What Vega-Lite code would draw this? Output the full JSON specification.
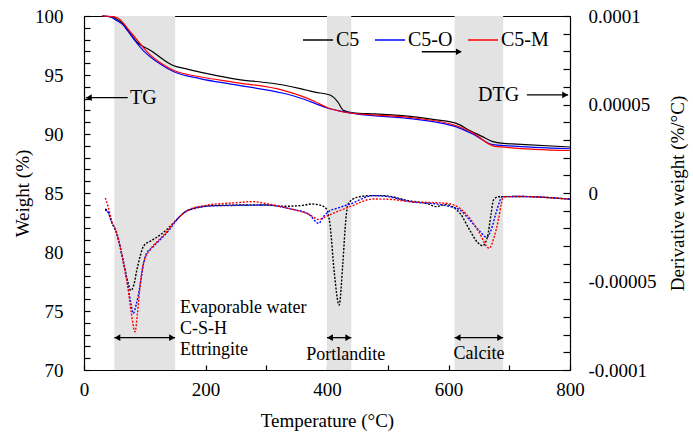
{
  "$schema": "https://vega.github.io/schema/vega-lite/v6.json",
  "width": 486,
  "height": 354,
  "autosize": "none",
  "padding": {"left": 84, "top": 16, "right": 123, "bottom": 63},
  "background": "white",
  "config": {
    "view": {"stroke": "black", "strokeWidth": 1},
    "font": "Liberation Serif",
    "axis": {
      "labelFont": "Liberation Serif", "titleFont": "Liberation Serif",
      "labelFontSize": 19, "titleFontSize": 19, "titleFontWeight": "normal",
      "labelColor": "black", "titleColor": "black", "domainColor": "black", "tickColor": "black",
      "domainWidth": 1.2, "tickWidth": 1.2, "grid": false, "labelOverlap": false, "labelFlush": false, "labelBound": false
    },
    "axisLeft": {"labelOverlap": false}
  },
  "datasets": {
    "bands": [{"t1": 50, "t2": 150}, {"t1": 400, "t2": 440}, {"t1": 610, "t2": 690}],
    "tg": [
      {"s":"C5","t":30,"w":100},{"s":"C5","t":45,"w":99.93},{"s":"C5","t":55,"w":99.7},{"s":"C5","t":65,"w":99.3},{"s":"C5","t":75,"w":98.6},{"s":"C5","t":87,"w":97.8},{"s":"C5","t":98,"w":97.4},{"s":"C5","t":109,"w":97.1},{"s":"C5","t":128,"w":96.4},{"s":"C5","t":147,"w":95.8},{"s":"C5","t":170,"w":95.5},{"s":"C5","t":191,"w":95.25},{"s":"C5","t":245,"w":94.7},{"s":"C5","t":328,"w":94.15},{"s":"C5","t":356,"w":93.85},{"s":"C5","t":380,"w":93.55},{"s":"C5","t":405,"w":93.3},{"s":"C5","t":418,"w":92.7},{"s":"C5","t":427,"w":92.0},{"s":"C5","t":443,"w":91.8},{"s":"C5","t":480,"w":91.7},{"s":"C5","t":537,"w":91.5},{"s":"C5","t":580,"w":91.2},{"s":"C5","t":613,"w":90.9},{"s":"C5","t":635,"w":90.3},{"s":"C5","t":655,"w":89.8},{"s":"C5","t":673,"w":89.35},{"s":"C5","t":690,"w":89.2},{"s":"C5","t":712,"w":89.15},{"s":"C5","t":800,"w":88.9},
      {"s":"C5-O","t":30,"w":100},{"s":"C5-O","t":45,"w":99.9},{"s":"C5-O","t":51,"w":99.7},{"s":"C5-O","t":65,"w":99.2},{"s":"C5-O","t":71,"w":98.8},{"s":"C5-O","t":87,"w":97.7},{"s":"C5-O","t":98,"w":97.05},{"s":"C5-O","t":109,"w":96.55},{"s":"C5-O","t":128,"w":95.85},{"s":"C5-O","t":147,"w":95.3},{"s":"C5-O","t":191,"w":94.7},{"s":"C5-O","t":245,"w":94.2},{"s":"C5-O","t":328,"w":93.45},{"s":"C5-O","t":356,"w":93.05},{"s":"C5-O","t":380,"w":92.6},{"s":"C5-O","t":400,"w":92.2},{"s":"C5-O","t":427,"w":91.9},{"s":"C5-O","t":443,"w":91.75},{"s":"C5-O","t":537,"w":91.3},{"s":"C5-O","t":580,"w":91.0},{"s":"C5-O","t":613,"w":90.6},{"s":"C5-O","t":640,"w":90.0},{"s":"C5-O","t":673,"w":89.1},{"s":"C5-O","t":700,"w":89.0},{"s":"C5-O","t":800,"w":88.75},
      {"s":"C5-M","t":30,"w":100},{"s":"C5-M","t":45,"w":99.95},{"s":"C5-M","t":55,"w":99.85},{"s":"C5-M","t":65,"w":99.4},{"s":"C5-M","t":71,"w":99.0},{"s":"C5-M","t":87,"w":98.0},{"s":"C5-M","t":98,"w":97.3},{"s":"C5-M","t":109,"w":96.7},{"s":"C5-M","t":128,"w":95.95},{"s":"C5-M","t":147,"w":95.4},{"s":"C5-M","t":191,"w":94.85},{"s":"C5-M","t":245,"w":94.4},{"s":"C5-M","t":328,"w":93.7},{"s":"C5-M","t":356,"w":93.25},{"s":"C5-M","t":380,"w":92.75},{"s":"C5-M","t":402,"w":92.2},{"s":"C5-M","t":435,"w":91.8},{"s":"C5-M","t":537,"w":91.4},{"s":"C5-M","t":613,"w":90.7},{"s":"C5-M","t":640,"w":90.1},{"s":"C5-M","t":673,"w":89.0},{"s":"C5-M","t":700,"w":88.85},{"s":"C5-M","t":800,"w":88.6}
    ],
    "dtg": [
      {"s":"C5","t":35,"d":-0.9e-5},{"s":"C5","t":40,"d":-1.1e-5},{"s":"C5","t":45,"d":-1.6e-5},{"s":"C5","t":54,"d":-2.3e-5},{"s":"C5","t":65,"d":-3.9e-5},{"s":"C5","t":72,"d":-5.0e-5},{"s":"C5","t":77,"d":-5.5e-5},{"s":"C5","t":82,"d":-5.2e-5},{"s":"C5","t":87,"d":-4.35e-5},{"s":"C5","t":93,"d":-3.5e-5},{"s":"C5","t":98,"d":-3.0e-5},{"s":"C5","t":110,"d":-2.7e-5},{"s":"C5","t":120,"d":-2.5e-5},{"s":"C5","t":135,"d":-2.1e-5},{"s":"C5","t":150,"d":-1.6e-5},{"s":"C5","t":165,"d":-1.1e-5},{"s":"C5","t":185,"d":-0.85e-5},{"s":"C5","t":218,"d":-0.7e-5},{"s":"C5","t":260,"d":-0.68e-5},{"s":"C5","t":300,"d":-0.68e-5},{"s":"C5","t":330,"d":-0.75e-5},{"s":"C5","t":360,"d":-0.7e-5},{"s":"C5","t":375,"d":-0.62e-5},{"s":"C5","t":390,"d":-0.7e-5},{"s":"C5","t":399,"d":-0.9e-5},{"s":"C5","t":405,"d":-1.8e-5},{"s":"C5","t":412,"d":-4.5e-5},{"s":"C5","t":420,"d":-6.33e-5},{"s":"C5","t":426,"d":-4.0e-5},{"s":"C5","t":431,"d":-1.5e-5},{"s":"C5","t":435,"d":-0.6e-5},{"s":"C5","t":449,"d":-0.25e-5},{"s":"C5","t":470,"d":-0.15e-5},{"s":"C5","t":492,"d":-0.15e-5},{"s":"C5","t":537,"d":-0.45e-5},{"s":"C5","t":565,"d":-0.6e-5},{"s":"C5","t":580,"d":-0.77e-5},{"s":"C5","t":595,"d":-0.65e-5},{"s":"C5","t":608,"d":-0.8e-5},{"s":"C5","t":619,"d":-1.15e-5},{"s":"C5","t":635,"d":-2.1e-5},{"s":"C5","t":648,"d":-2.8e-5},{"s":"C5","t":656,"d":-2.98e-5},{"s":"C5","t":664,"d":-2.5e-5},{"s":"C5","t":670,"d":-1.2e-5},{"s":"C5","t":674,"d":-0.4e-5},{"s":"C5","t":682,"d":-0.21e-5},{"s":"C5","t":720,"d":-0.2e-5},{"s":"C5","t":760,"d":-0.25e-5},{"s":"C5","t":800,"d":-0.35e-5},
      {"s":"C5-O","t":35,"d":-0.96e-5},{"s":"C5-O","t":40,"d":-1.1e-5},{"s":"C5-O","t":45,"d":-1.6e-5},{"s":"C5-O","t":54,"d":-2.3e-5},{"s":"C5-O","t":65,"d":-3.95e-5},{"s":"C5-O","t":72,"d":-5.2e-5},{"s":"C5-O","t":77,"d":-6.2e-5},{"s":"C5-O","t":81,"d":-6.8e-5},{"s":"C5-O","t":86,"d":-6.3e-5},{"s":"C5-O","t":92,"d":-5.3e-5},{"s":"C5-O","t":98,"d":-4.0e-5},{"s":"C5-O","t":103,"d":-3.4e-5},{"s":"C5-O","t":112,"d":-3.1e-5},{"s":"C5-O","t":125,"d":-2.65e-5},{"s":"C5-O","t":140,"d":-2.1e-5},{"s":"C5-O","t":153,"d":-1.5e-5},{"s":"C5-O","t":170,"d":-1.0e-5},{"s":"C5-O","t":200,"d":-0.75e-5},{"s":"C5-O","t":250,"d":-0.7e-5},{"s":"C5-O","t":300,"d":-0.68e-5},{"s":"C5-O","t":340,"d":-0.9e-5},{"s":"C5-O","t":370,"d":-1.2e-5},{"s":"C5-O","t":386,"d":-1.71e-5},{"s":"C5-O","t":395,"d":-1.3e-5},{"s":"C5-O","t":405,"d":-1.0e-5},{"s":"C5-O","t":416,"d":-0.87e-5},{"s":"C5-O","t":438,"d":-0.62e-5},{"s":"C5-O","t":476,"d":-0.15e-5},{"s":"C5-O","t":500,"d":-0.2e-5},{"s":"C5-O","t":537,"d":-0.49e-5},{"s":"C5-O","t":580,"d":-0.62e-5},{"s":"C5-O","t":600,"d":-0.75e-5},{"s":"C5-O","t":619,"d":-0.96e-5},{"s":"C5-O","t":635,"d":-1.53e-5},{"s":"C5-O","t":650,"d":-2.1e-5},{"s":"C5-O","t":663,"d":-2.5e-5},{"s":"C5-O","t":670,"d":-2.1e-5},{"s":"C5-O","t":678,"d":-1.15e-5},{"s":"C5-O","t":684,"d":-0.5e-5},{"s":"C5-O","t":688,"d":-0.21e-5},{"s":"C5-O","t":720,"d":-0.2e-5},{"s":"C5-O","t":760,"d":-0.25e-5},{"s":"C5-O","t":800,"d":-0.35e-5},
      {"s":"C5-M","t":35,"d":-0.28e-5},{"s":"C5-M","t":40,"d":-0.8e-5},{"s":"C5-M","t":45,"d":-1.5e-5},{"s":"C5-M","t":54,"d":-2.26e-5},{"s":"C5-M","t":65,"d":-3.95e-5},{"s":"C5-M","t":72,"d":-5.3e-5},{"s":"C5-M","t":78,"d":-6.8e-5},{"s":"C5-M","t":84,"d":-7.84e-5},{"s":"C5-M","t":88,"d":-6.8e-5},{"s":"C5-M","t":93,"d":-5.0e-5},{"s":"C5-M","t":98,"d":-3.95e-5},{"s":"C5-M","t":109,"d":-3.2e-5},{"s":"C5-M","t":125,"d":-2.6e-5},{"s":"C5-M","t":136,"d":-2.2e-5},{"s":"C5-M","t":150,"d":-1.6e-5},{"s":"C5-M","t":170,"d":-1.0e-5},{"s":"C5-M","t":200,"d":-0.7e-5},{"s":"C5-M","t":250,"d":-0.55e-5},{"s":"C5-M","t":278,"d":-0.49e-5},{"s":"C5-M","t":300,"d":-0.6e-5},{"s":"C5-M","t":340,"d":-0.9e-5},{"s":"C5-M","t":370,"d":-1.2e-5},{"s":"C5-M","t":386,"d":-1.49e-5},{"s":"C5-M","t":400,"d":-1.3e-5},{"s":"C5-M","t":416,"d":-1.06e-5},{"s":"C5-M","t":438,"d":-0.77e-5},{"s":"C5-M","t":476,"d":-0.34e-5},{"s":"C5-M","t":500,"d":-0.35e-5},{"s":"C5-M","t":537,"d":-0.49e-5},{"s":"C5-M","t":580,"d":-0.55e-5},{"s":"C5-M","t":600,"d":-0.6e-5},{"s":"C5-M","t":619,"d":-0.87e-5},{"s":"C5-M","t":635,"d":-1.43e-5},{"s":"C5-M","t":650,"d":-2.2e-5},{"s":"C5-M","t":667,"d":-3.12e-5},{"s":"C5-M","t":675,"d":-2.5e-5},{"s":"C5-M","t":682,"d":-1.53e-5},{"s":"C5-M","t":687,"d":-0.6e-5},{"s":"C5-M","t":690,"d":-0.21e-5},{"s":"C5-M","t":720,"d":-0.2e-5},{"s":"C5-M","t":760,"d":-0.25e-5},{"s":"C5-M","t":800,"d":-0.35e-5}
    ],
    "arrows": [
      {"t1": 50, "t2": 150, "w": 72.74},
      {"t1": 400, "t2": 440, "w": 72.74},
      {"t1": 610, "t2": 690, "w": 72.74},
      {"t1": 3, "t2": 72, "w": 93.08},
      {"t1": 729, "t2": 797, "w": 93.31},
      {"t1": 556, "t2": 620, "w": 96.97}
    ],
    "heads": [
      {"t": 55, "w": 72.74, "dir": "left"}, {"t": 145, "w": 72.74, "dir": "right"},
      {"t": 405, "w": 72.74, "dir": "left"}, {"t": 435, "w": 72.74, "dir": "right"},
      {"t": 615, "w": 72.74, "dir": "left"}, {"t": 685, "w": 72.74, "dir": "right"},
      {"t": 8, "w": 93.08, "dir": "left"},
      {"t": 792, "w": 93.31, "dir": "right"},
      {"t": 617, "w": 96.97, "dir": "right"}
    ],
    "textsLeft": [
      {"t": 158, "w": 75.28, "label": "Evaporable water"},
      {"t": 158, "w": 73.47, "label": "C-S-H"},
      {"t": 158, "w": 71.69, "label": "Ettringite"}
    ],
    "textsCenter": [
      {"t": 431, "w": 71.27, "label": "Portlandite"},
      {"t": 650, "w": 71.33, "label": "Calcite"}
    ],
    "textsBig": [
      {"t": 75.7, "w": 93.08, "label": "TG"},
      {"t": 648.6, "w": 93.31, "label": "DTG"}
    ]
  },
  "layer": [
    {
      "layer": [
        {
          "data": {"name": "bands"},
          "mark": {"type": "rect", "color": "#e3e3e3"},
          "encoding": {
            "x": {"field": "t1", "type": "quantitative", "title": "Temperature (°C)",
              "scale": {"domain": [0, 800], "nice": false},
              "axis": {"values": [0,50,100,150,200,250,300,350,400,450,500,550,600,650,700,750,800],
                "labelExpr": "datum.value % 200 == 0 ? datum.label : ''", "labelOverlap": false,
                "tickSize": -5, "labelPadding": 15, "titleX": 243, "titleY": 50, "titleBaseline": "middle", "titleAlign": "center"}},
            "x2": {"field": "t2"}
          }
        },
        {
          "data": {"name": "tg"},
          "mark": {"type": "line", "strokeWidth": 1.2, "interpolate": "monotone"},
          "encoding": {
            "x": {"field": "t", "type": "quantitative", "title": "Temperature (°C)"},
            "y": {"field": "w", "type": "quantitative", "title": "Weight (%)",
              "scale": {"domain": [70, 100], "nice": false},
              "axis": {"values": [70,71,72,73,74,75,76,77,78,79,80,81,82,83,84,85,86,87,88,89,90,91,92,93,94,95,96,97,98,99,100],
                "labelExpr": "datum.value % 5 == 0 ? datum.label : ''", "labelOverlap": false,
                "tickSize": -6, "labelPadding": 27, "titleX": -62, "titleY": 177, "titleAngle": 270, "titleBaseline": "middle", "titleAlign": "center"}},
            "color": {"field": "s", "type": "nominal",
              "scale": {"domain": ["C5", "C5-O", "C5-M"], "range": ["#000000", "#0000ff", "#ff0000"]},
              "legend": {"orient": "none", "legendX": 218, "legendY": 8, "direction": "horizontal", "title": null,
                "symbolType": "stroke", "symbolSize": 900, "symbolStrokeWidth": 1.5, "labelFontSize": 20,
                "labelFont": "Liberation Serif", "labelColor": "black", "labelOffset": 2, "columnPadding": 12, "padding": 0}}
          }
        },
        {
          "data": {"name": "arrows"},
          "mark": {"type": "rule", "color": "black", "strokeWidth": 1.3},
          "encoding": {
            "x": {"field": "t1", "type": "quantitative", "title": "Temperature (°C)"},
            "x2": {"field": "t2"},
            "y": {"field": "w", "type": "quantitative", "title": "Weight (%)",
              "axis": {"values": [70,71,72,73,74,75,76,77,78,79,80,81,82,83,84,85,86,87,88,89,90,91,92,93,94,95,96,97,98,99,100],
                "labelExpr": "datum.value % 5 == 0 ? datum.label : ''", "labelOverlap": false,
                "tickSize": -6, "labelPadding": 27, "titleX": -62, "titleY": 177, "titleAngle": 270, "titleBaseline": "middle", "titleAlign": "center"}}
          }
        },
        {
          "data": {"name": "heads"},
          "mark": {"type": "point", "filled": true, "color": "black", "size": 45, "opacity": 1},
          "encoding": {
            "x": {"field": "t", "type": "quantitative", "title": "Temperature (°C)"},
            "y": {"field": "w", "type": "quantitative", "title": "Weight (%)",
              "axis": {"values": [70,71,72,73,74,75,76,77,78,79,80,81,82,83,84,85,86,87,88,89,90,91,92,93,94,95,96,97,98,99,100],
                "labelExpr": "datum.value % 5 == 0 ? datum.label : ''", "labelOverlap": false,
                "tickSize": -6, "labelPadding": 27, "titleX": -62, "titleY": 177, "titleAngle": 270, "titleBaseline": "middle", "titleAlign": "center"}},
            "shape": {"field": "dir", "type": "nominal", "scale": {"domain": ["left", "right"], "range": ["triangle-left", "triangle-right"]}, "legend": null}
          }
        },
        {
          "data": {"name": "textsLeft"},
          "mark": {"type": "text", "align": "left", "baseline": "middle", "fontSize": 18, "font": "Liberation Serif", "color": "black"},
          "encoding": {
            "x": {"field": "t", "type": "quantitative", "title": "Temperature (°C)"},
            "y": {"field": "w", "type": "quantitative", "title": "Weight (%)",
              "axis": {"values": [70,71,72,73,74,75,76,77,78,79,80,81,82,83,84,85,86,87,88,89,90,91,92,93,94,95,96,97,98,99,100],
                "labelExpr": "datum.value % 5 == 0 ? datum.label : ''", "labelOverlap": false,
                "tickSize": -6, "labelPadding": 27, "titleX": -62, "titleY": 177, "titleAngle": 270, "titleBaseline": "middle", "titleAlign": "center"}},
            "text": {"field": "label"}
          }
        },
        {
          "data": {"name": "textsCenter"},
          "mark": {"type": "text", "align": "center", "baseline": "middle", "fontSize": 18, "font": "Liberation Serif", "color": "black"},
          "encoding": {
            "x": {"field": "t", "type": "quantitative", "title": "Temperature (°C)"},
            "y": {"field": "w", "type": "quantitative", "title": "Weight (%)",
              "axis": {"values": [70,71,72,73,74,75,76,77,78,79,80,81,82,83,84,85,86,87,88,89,90,91,92,93,94,95,96,97,98,99,100],
                "labelExpr": "datum.value % 5 == 0 ? datum.label : ''", "labelOverlap": false,
                "tickSize": -6, "labelPadding": 27, "titleX": -62, "titleY": 177, "titleAngle": 270, "titleBaseline": "middle", "titleAlign": "center"}},
            "text": {"field": "label"}
          }
        },
        {
          "data": {"name": "textsBig"},
          "mark": {"type": "text", "align": "left", "baseline": "middle", "fontSize": 20, "font": "Liberation Serif", "color": "black"},
          "encoding": {
            "x": {"field": "t", "type": "quantitative", "title": "Temperature (°C)"},
            "y": {"field": "w", "type": "quantitative", "title": "Weight (%)",
              "axis": {"values": [70,71,72,73,74,75,76,77,78,79,80,81,82,83,84,85,86,87,88,89,90,91,92,93,94,95,96,97,98,99,100],
                "labelExpr": "datum.value % 5 == 0 ? datum.label : ''", "labelOverlap": false,
                "tickSize": -6, "labelPadding": 27, "titleX": -62, "titleY": 177, "titleAngle": 270, "titleBaseline": "middle", "titleAlign": "center"}},
            "text": {"field": "label"}
          }
        }
      ]
    },
    {
      "data": {"name": "dtg"},
      "mark": {"type": "line", "strokeWidth": 1.4, "strokeDash": [2, 1.5], "interpolate": "monotone"},
      "encoding": {
        "x": {"field": "t", "type": "quantitative", "title": "Temperature (°C)"},
        "y": {"field": "d", "type": "quantitative", "title": "Derivative weight (%/°C)",
          "scale": {"domain": [-0.0001, 0.0001], "nice": false},
          "axis": {"orient": "right",
            "values": [-0.0001,-0.00009,-0.00008,-0.00007,-0.00006,-0.00005,-0.00004,-0.00003,-0.00002,-0.00001,0,0.00001,0.00002,0.00003,0.00004,0.00005,0.00006,0.00007,0.00008,0.00009,0.0001],
            "labelExpr": "round(datum.value*100000)==10 ? '0.0001' : round(datum.value*100000)==5 ? '0.00005' : round(datum.value*100000)==0 ? '0' : round(datum.value*100000)==-5 ? '-0.00005' : round(datum.value*100000)==-10 ? '-0.0001' : ''",
            "labelOverlap": false,
            "tickSize": -7, "labelPadding": 25, "titleX": 107, "titleY": 177, "titleAngle": 270, "titleBaseline": "middle", "titleAlign": "center"}},
        "stroke": {"field": "s", "type": "nominal",
          "scale": {"domain": ["C5", "C5-O", "C5-M"], "range": ["#000000", "#0000ff", "#ff0000"]},
          "legend": null}
      }
    }
  ],
  "resolve": {"scale": {"y": "independent"}}
}
